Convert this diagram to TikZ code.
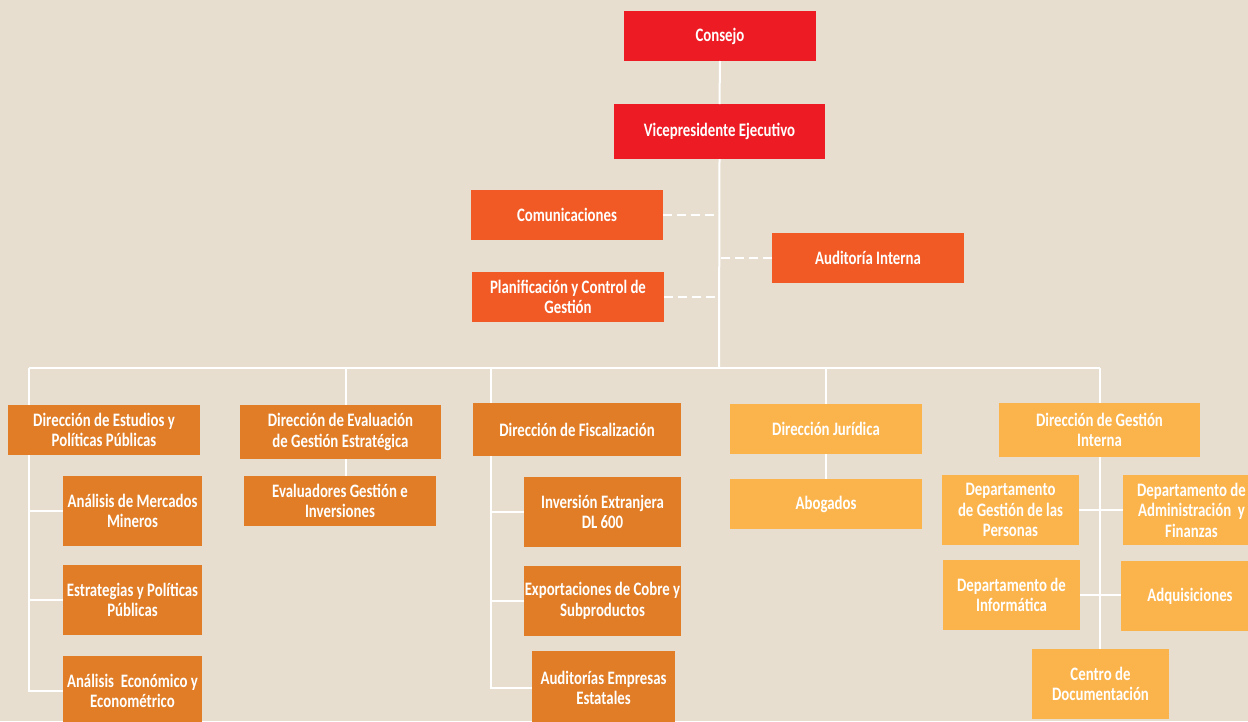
\documentclass[tikz,border=0pt]{standalone}
\usepackage{fontspec}
\setmainfont{Carlito}[FakeStretch=0.78]
\definecolor{bg}{HTML}{E7DED0}
\definecolor{cred}{HTML}{ED1C24}
\definecolor{cora}{HTML}{F15A24}
\definecolor{corg}{HTML}{E07D26}
\definecolor{clight}{HTML}{FBB44C}
\tikzset{
  box/.style={inner sep=0pt, outer sep=0pt, align=center, text=white,
    font=\bfseries\fontsize{19}{20.5}\selectfont},
  red box/.style={box, fill=cred},
  ora box/.style={box, fill=cora},
  org box/.style={box, fill=corg},
  lt box/.style={box, fill=clight},
  wline/.style={draw=white, line width=2pt},
  dline/.style={draw=white, line width=1.8pt, dash pattern=on 9pt off 5pt},
}
\newcommand{\bx}[6]{\node[#1, minimum width=#4pt, minimum height=#5pt] (#2) at #3 {#6};}
\begin{document}
\begin{tikzpicture}[x=1pt,y=-1pt]
\fill[bg] (0,0) rectangle (1248,721);
\useasboundingbox (0,0) rectangle (1248,721);
\begin{scope}
\clip (0,0) rectangle (1248,721);
% coordinates for bus
\coordinate (bus) at (719,368);
\coordinate (bL) at (29,368);
\coordinate (b2) at (346,368);
\coordinate (b3) at (491,368);
\coordinate (b4) at (826,368);
\coordinate (bR) at (1100,368);

% top
\bx{red box}{consejo}{(720,36)}{192}{50}{Consejo}
\bx{red box}{vp}{(719.5,131.5)}{211}{55}{Vicepresidente Ejecutivo}
\bx{ora box}{com}{(567,215)}{192}{50}{Comunicaciones}
\bx{ora box}{plan}{(568,297)}{192}{50}{Planificación y Control de\\Gestión}
\bx{ora box}{aud}{(868,258)}{192}{50}{Auditoría Interna}

% column 1
\bx{org box}{est}{(104,430)}{192}{50}{Dirección de Estudios y\\Políticas Públicas}
\bx{org box}{mer}{(132.5,511)}{139}{70}{Análisis de Mercados\\Mineros}
\bx{org box}{estr}{(132.5,600)}{139}{70}{Estrategias y Políticas\\Públicas}
\bx{org box}{econ}{(132.5,691)}{139}{70}{Análisis\ \ Económico y\\Econométrico}

% column 2
\bx{org box}{eval}{(340.5,432)}{201}{54}{Dirección de Evaluación\\de Gestión Estratégica}
\bx{org box}{evals}{(340,501)}{192}{50}{Evaluadores Gestión e\\Inversiones}

% column 3
\bx{org box}{fis}{(577,429.5)}{208}{53}{Dirección de Fiscalización}
\bx{org box}{inv}{(602.5,512)}{157}{70}{Inversión Extranjera\\DL 600}
\bx{org box}{exp}{(602.5,601)}{157}{70}{Exportaciones de Cobre y\\Subproductos}
\bx{org box}{audE}{(603.5,688)}{143}{74}{Auditorías Empresas\\Estatales}

% column 4
\bx{lt box}{jur}{(826,429)}{192}{50}{Dirección Jurídica}
\bx{lt box}{abo}{(826,504)}{192}{50}{Abogados}

% column 5
\bx{lt box}{gi}{(1099.5,430)}{201}{54}{Dirección de Gestión\\Interna}
\bx{lt box}{dgp}{(1010.5,510)}{137}{70}{Departamento\\de Gestión de las\\Personas}
\bx{lt box}{dadm}{(1191.5,510)}{137}{70}{Departamento de\\Administración\ \ y\\Finanzas}
\bx{lt box}{dinf}{(1011.5,595)}{137}{70}{Departamento de\\Informática}
\bx{lt box}{adq}{(1190,596)}{138}{70}{Adquisiciones}
\bx{lt box}{cen}{(1100.5,684)}{137}{70}{Centro de\\Documentación}

% connectors
\draw[wline] (consejo.south) -- (vp.north);
\draw[wline] (vp.south) -- (bus);
\draw[wline] (bL) -- (bR);
\draw[dline] (com.east) -- (com.east -| vp.south);
\draw[dline] (plan.east) -- (plan.east -| vp.south);
\draw[dline] (aud.west) -- (aud.west -| vp.south);

\draw[wline] (bL) -- (bL |- est.north);
\draw[wline] (b2) -- (b2 |- eval.north);
\draw[wline] (b3) -- (b3 |- fis.north);
\draw[wline] (b4) -- (jur.north);
\draw[wline] (bR) -- (bR |- gi.north);

% column 1 trunk
\draw[wline] (bL |- est.south) -- (bL |- econ.west) -- (econ.west);
\draw[wline] (bL |- mer.west) -- (mer.west);
\draw[wline] (bL |- estr.west) -- (estr.west);

% column 2
\draw[wline] (b2 |- eval.south) -- (b2 |- evals.north);

% column 3 trunk
\draw[wline] (b3 |- fis.south) -- (b3 |- audE.west) -- (audE.west);
\draw[wline] (b3 |- inv.west) -- (inv.west);
\draw[wline] (b3 |- exp.west) -- (exp.west);

% column 4
\draw[wline] (jur.south) -- (abo.north);

% column 5
\draw[wline] (bR |- gi.south) -- (bR |- cen.north);
\draw[wline] (dgp.east) -- (dadm.west);
\draw[wline] (dinf.east) -- (dinf.east -| adq.west);
\end{scope}
\end{tikzpicture}
\end{document}
